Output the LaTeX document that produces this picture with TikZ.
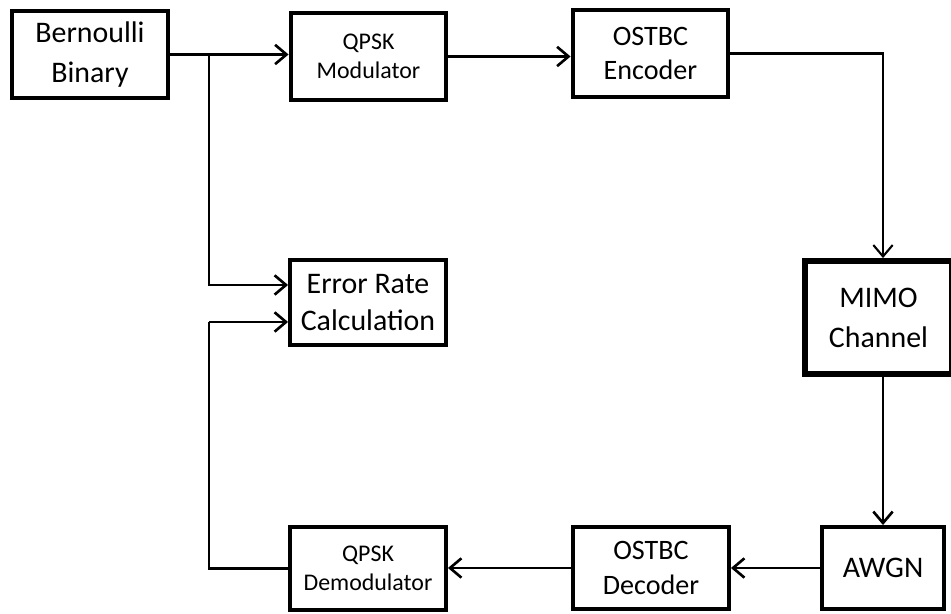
\documentclass[tikz,border=0pt]{standalone}
\usepackage{fontspec}
\setmainfont{Carlito}
\usepackage{tikz}
\usetikzlibrary{calc,positioning,arrows.meta}

\begin{document}
\begin{tikzpicture}[
    blk/.style={draw, rectangle, line width=2.5pt, fill=white, align=center,
      minimum width=3.11cm, minimum height=1.73cm, inner sep=0pt,
      font=\fontsize{17}{22.8}\selectfont},
    smalltxt/.style={font=\fontsize{13.6}{16.2}\selectfont},
    midtxt/.style={font=\fontsize{16}{19.6}\selectfont},
    sig/.style={line width=1.5pt, -{Straight Barb[length=6.5pt,width=11pt]}},
    wire/.style={line width=1.5pt}
  ]
  \useasboundingbox (0,0) rectangle (19.02,12.28);

  % Top row
  \node[blk] (bern) at (1.80,11.19) {Bernoulli\\Binary};
  \node[blk, smalltxt] (qmod) at (7.37,11.15) {QPSK\\Modulator};
  \node[blk, midtxt] (enc) at (13.01,11.21) {OSTBC\\Encoder};

  % Middle
  \node[blk, minimum height=1.69cm, font=\fontsize{17}{21}\selectfont] (err) at (7.36,6.23) {Error Rate\\Calculation};
  \node[blk, line width=3.6pt, minimum width=2.93cm, minimum height=2.25cm] (mimo) at (17.57,5.93) {MIMO\\Channel};

  % Bottom row
  \node[blk, minimum width=2.43cm, minimum height=1.63cm] (awgn) at (17.66,0.92) {AWGN};
  \node[blk, midtxt, minimum height=1.63cm] (dec) at (13.02,0.92) {OSTBC\\Decoder};
  \node[blk, smalltxt, minimum height=1.65cm] (qdem) at (7.36,0.91) {QPSK\\Demodulator};

  \coordinate (split) at (4.18,11.18);

  % Forward path
  \draw[sig] (bern.east) -- (bern.east -| qmod.west);
  \draw[sig] (split) |- ($(err.west)+(0,0.35)$);
  \draw[sig] (qmod.east) -- (qmod.east -| enc.west);
  \draw[sig, line width=1.2pt] (enc.east) -| (mimo.north -| awgn.north);
  \draw[sig] (mimo.south -| awgn.north) -- (awgn.north);

  % Receiver path
  \draw[sig] (awgn.west) -- (awgn.west -| dec.east);
  \draw[sig] (dec.west) -- (dec.west -| qdem.east);
  \draw[wire] (qdem.west) -| ($(split |- err.west)+(0,-0.39)$) coordinate (back);
  \draw[sig] (back) -- (back -| err.west);
\end{tikzpicture}
\end{document}
